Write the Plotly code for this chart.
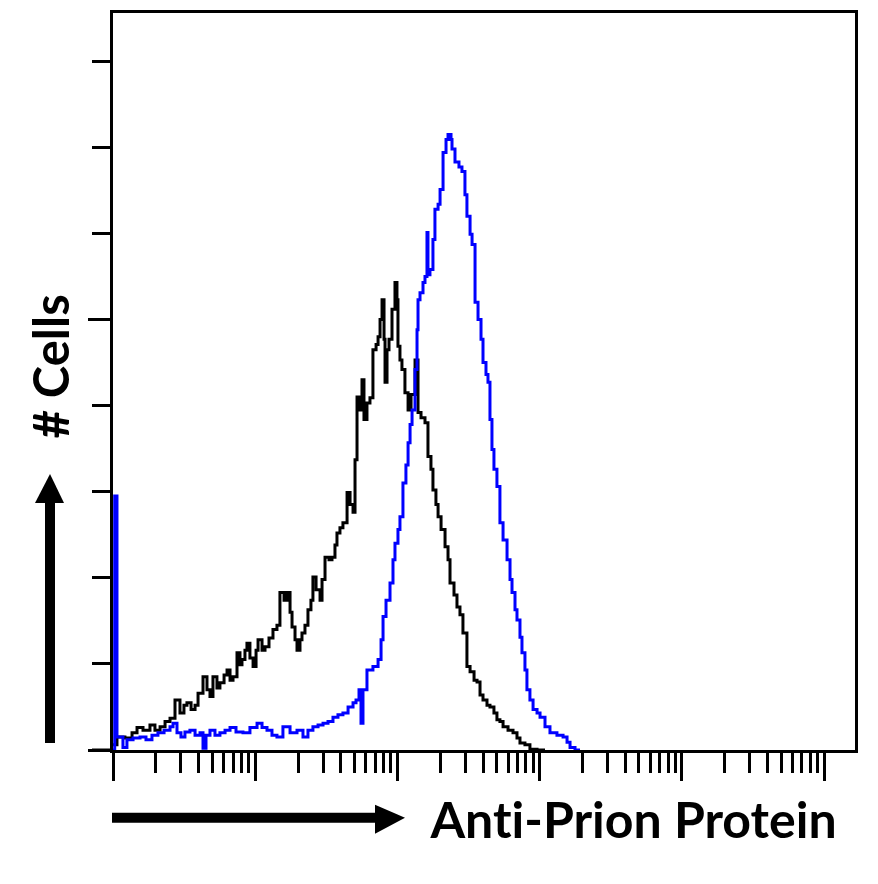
import plotly.graph_objects as go

# channel position in decades (log10 of intensity) and cell counts
black_log = [0.000, 0.028, 0.084, 0.134, 0.169, 0.211, 0.260, 0.295, 0.331, 0.366,
             0.401, 0.436, 0.471, 0.499, 0.520, 0.549, 0.577, 0.598, 0.633, 0.661,
             0.682, 0.703, 0.731, 0.752, 0.781, 0.802, 0.823, 0.844, 0.872, 0.893,
             0.907, 0.928, 0.942, 0.963, 0.985, 1.006, 1.020, 1.048, 1.069, 1.097,
             1.125, 1.153, 1.174, 1.203, 1.224, 1.245, 1.259, 1.280, 1.294, 1.315,
             1.329, 1.350, 1.371, 1.392, 1.406, 1.428, 1.456, 1.470, 1.491, 1.519,
             1.540, 1.561, 1.575, 1.596, 1.617, 1.646, 1.667, 1.688, 1.702, 1.716,
             1.737, 1.751, 1.765, 1.786, 1.807, 1.828, 1.850, 1.864, 1.878, 1.892,
             1.906, 1.913, 1.927, 1.941, 1.962, 1.983, 1.997, 2.004, 2.018, 2.032,
             2.053, 2.075, 2.096, 2.124, 2.145, 2.166, 2.194, 2.215, 2.236, 2.250,
             2.271, 2.286, 2.307, 2.335, 2.356, 2.370, 2.398, 2.419, 2.440, 2.461,
             2.489, 2.511, 2.539, 2.560, 2.581, 2.602, 2.630, 2.651, 2.679, 2.700,
             2.721, 2.743, 2.778, 2.813, 2.841, 2.862, 2.897, 2.932, 2.982, 3.038]
black_cnt = [0.06, 0.15, 0.14, 0.20, 0.26, 0.23, 0.29, 0.23, 0.27, 0.33,
             0.37, 0.58, 0.43, 0.52, 0.55, 0.47, 0.52, 0.66, 0.85, 0.70,
             0.62, 0.85, 0.72, 0.78, 0.87, 0.93, 0.81, 0.85, 1.13, 0.99,
             1.05, 1.16, 1.24, 1.07, 0.97, 1.16, 1.28, 1.16, 1.20, 1.30,
             1.40, 1.45, 1.83, 1.74, 1.83, 1.60, 1.43, 1.28, 1.16, 1.28,
             1.36, 1.45, 1.63, 1.74, 2.01, 1.86, 1.74, 1.98, 2.24, 2.21,
             2.24, 2.38, 2.52, 2.58, 2.64, 2.99, 2.85, 2.76, 3.37, 4.10,
             3.95, 4.30, 3.84, 4.03, 4.09, 4.65, 4.71, 4.80, 5.00, 5.23,
             4.77, 4.27, 4.65, 4.77, 5.12, 5.43, 5.23, 4.69, 4.53, 4.42,
             4.15, 3.95, 4.13, 4.53, 3.92, 3.86, 3.80, 3.41, 3.26, 3.02,
             2.85, 2.71, 2.56, 2.36, 2.21, 1.94, 1.80, 1.66, 1.57, 1.36,
             0.97, 0.91, 0.81, 0.79, 0.64, 0.58, 0.52, 0.50, 0.43, 0.35,
             0.33, 0.27, 0.23, 0.20, 0.14, 0.08, 0.06, 0.01, 0.00, 0.00]

blue_log = [0.000, 0.012, 0.028, 0.070, 0.098, 0.141, 0.190, 0.232, 0.274, 0.316,
            0.359, 0.401, 0.422, 0.450, 0.478, 0.506, 0.541, 0.577, 0.612, 0.633,
            0.654, 0.682, 0.717, 0.752, 0.788, 0.823, 0.865, 0.914, 0.963, 1.013,
            1.048, 1.083, 1.118, 1.153, 1.195, 1.245, 1.294, 1.336, 1.371, 1.406,
            1.442, 1.477, 1.512, 1.547, 1.582, 1.617, 1.653, 1.688, 1.709, 1.730,
            1.744, 1.758, 1.786, 1.828, 1.864, 1.885, 1.899, 1.920, 1.948, 1.969,
            1.983, 2.004, 2.018, 2.039, 2.060, 2.075, 2.089, 2.103, 2.124, 2.138,
            2.145, 2.159, 2.180, 2.194, 2.208, 2.215, 2.229, 2.250, 2.264, 2.286,
            2.300, 2.321, 2.342, 2.356, 2.377, 2.384, 2.405, 2.433, 2.454, 2.475,
            2.489, 2.511, 2.525, 2.546, 2.567, 2.588, 2.602, 2.623, 2.637, 2.651,
            2.665, 2.679, 2.700, 2.721, 2.743, 2.771, 2.792, 2.806, 2.827, 2.841,
            2.862, 2.876, 2.897, 2.911, 2.932, 2.954, 2.982, 3.003, 3.038, 3.073,
            3.122, 3.165, 3.193, 3.214, 3.249, 3.284]
blue_cnt = [0.00, 2.95, 0.15, 0.03, 0.12, 0.14, 0.15, 0.12, 0.17, 0.20,
            0.23, 0.27, 0.31, 0.20, 0.15, 0.21, 0.23, 0.17, 0.20, 0.02,
            0.17, 0.23, 0.17, 0.20, 0.23, 0.26, 0.21, 0.20, 0.26, 0.31,
            0.26, 0.23, 0.17, 0.15, 0.27, 0.20, 0.23, 0.15, 0.23, 0.27,
            0.29, 0.31, 0.33, 0.38, 0.41, 0.43, 0.50, 0.55, 0.58, 0.70,
            0.31, 0.70, 0.93, 0.97, 1.05, 1.28, 1.55, 1.74, 1.94, 2.21,
            2.40, 2.56, 2.71, 3.10, 3.31, 3.57, 3.78, 3.95, 4.42, 4.88,
            5.23, 5.31, 5.43, 5.50, 6.01, 5.52, 5.58, 5.93, 6.28, 6.34,
            6.51, 6.94, 7.09, 7.15, 7.09, 6.98, 6.83, 6.77, 6.72, 6.45,
            6.20, 5.99, 5.87, 5.20, 5.00, 4.77, 4.50, 4.36, 4.27, 3.84,
            3.49, 3.26, 3.06, 2.64, 2.44, 2.21, 1.98, 1.83, 1.63, 1.51,
            1.31, 1.13, 0.93, 0.70, 0.58, 0.47, 0.43, 0.38, 0.27, 0.20,
            0.17, 0.15, 0.09, 0.03, 0.00, 0.00]

W, H = 878, 884
L, R, T, B = 113, 855, 10, 750


def px(x):
    return (x - L) / (R - L)


def py(y):
    return (B - y) / (B - T)


fig = go.Figure()

fig.add_trace(go.Scatter(
    x=[10 ** v for v in black_log], y=black_cnt,
    mode='lines', line=dict(color='black', width=3, shape='hv'),
    showlegend=False, hoverinfo='skip'))

fig.add_trace(go.Scatter(
    x=[10 ** v for v in blue_log], y=blue_cnt,
    mode='lines', line=dict(color='#0000ff', width=3, shape='hv'),
    showlegend=False, hoverinfo='skip'))

major_x = [10 ** d for d in range(6)]
minor_x = [k * 10 ** d for d in range(5) for k in range(2, 10)]

fig.update_xaxes(
    type='log', range=[0, 5.218],
    showline=True, mirror=True, linecolor='black', linewidth=3,
    showgrid=False, zeroline=False, showticklabels=False,
    tickmode='array', tickvals=major_x, ticks='outside',
    ticklen=28, tickwidth=3, tickcolor='black',
    minor=dict(tickmode='array', tickvals=minor_x, ticks='outside',
               ticklen=20, tickwidth=3, tickcolor='black', showgrid=False))

fig.update_yaxes(
    range=[0, 8.56],
    showline=True, mirror=True, linecolor='black', linewidth=3,
    showgrid=False, zeroline=False, showticklabels=False,
    tickmode='array', tickvals=[0, 5], ticks='outside',
    ticklen=22, tickwidth=3, tickcolor='black',
    minor=dict(tickmode='array', tickvals=[1, 2, 3, 4, 6, 7, 8], ticks='outside',
               ticklen=18, tickwidth=3, tickcolor='black', showgrid=False))

shapes = [
    # bottom axis line sticking out to the left
    dict(type='line', xref='paper', yref='paper', x0=px(92), x1=px(113), y0=0, y1=0,
         line=dict(color='black', width=3)),
    # horizontal arrow
    dict(type='rect', xref='paper', yref='paper', x0=px(112), x1=px(377),
         y0=py(813), y1=py(823), fillcolor='black', line=dict(width=0)),
    dict(type='path', xref='paper', yref='paper',
         path=f'M {px(375)} {py(805)} L {px(405)} {py(818)} L {px(375)} {py(834)} Z',
         fillcolor='black', line=dict(width=0)),
    # vertical arrow
    dict(type='rect', xref='paper', yref='paper', x0=px(45), x1=px(55),
         y0=py(743), y1=py(500), fillcolor='black', line=dict(width=0)),
    dict(type='path', xref='paper', yref='paper',
         path=f'M {px(35)} {py(502)} L {px(50)} {py(473)} L {px(64)} {py(502)} Z',
         fillcolor='black', line=dict(width=0)),
]

annotations = [
    dict(text='<b>Anti-Prion Protein</b>', xref='paper', yref='paper',
         x=px(427), y=py(819), xanchor='left', yanchor='middle', showarrow=False,
         font=dict(family='Lato', size=50, color='black')),
    dict(text='<b># Cells</b>', xref='paper', yref='paper',
         x=px(50), y=py(365), xanchor='center', yanchor='middle', showarrow=False,
         textangle=-90, font=dict(family='Lato', size=49, color='black')),
]

fig.update_layout(
    width=W, height=H,
    margin=dict(l=L, r=W - R, t=T, b=H - B),
    paper_bgcolor='white', plot_bgcolor='white',
    shapes=shapes, annotations=annotations,
)

page_fix = (
    "document.body.style.margin='0';"
    "document.body.style.overflow='hidden';"
    "document.head.insertAdjacentHTML('beforeend',"
    "'<style>text, tspan {font-variant-ligatures:none !important;"
    "font-feature-settings:\"liga\" 0, \"clig\" 0, \"dlig\" 0, \"calt\" 0 !important;}</style>');"
)

fig.write_html('out.html', config={'displayModeBar': False}, post_script=page_fix)
